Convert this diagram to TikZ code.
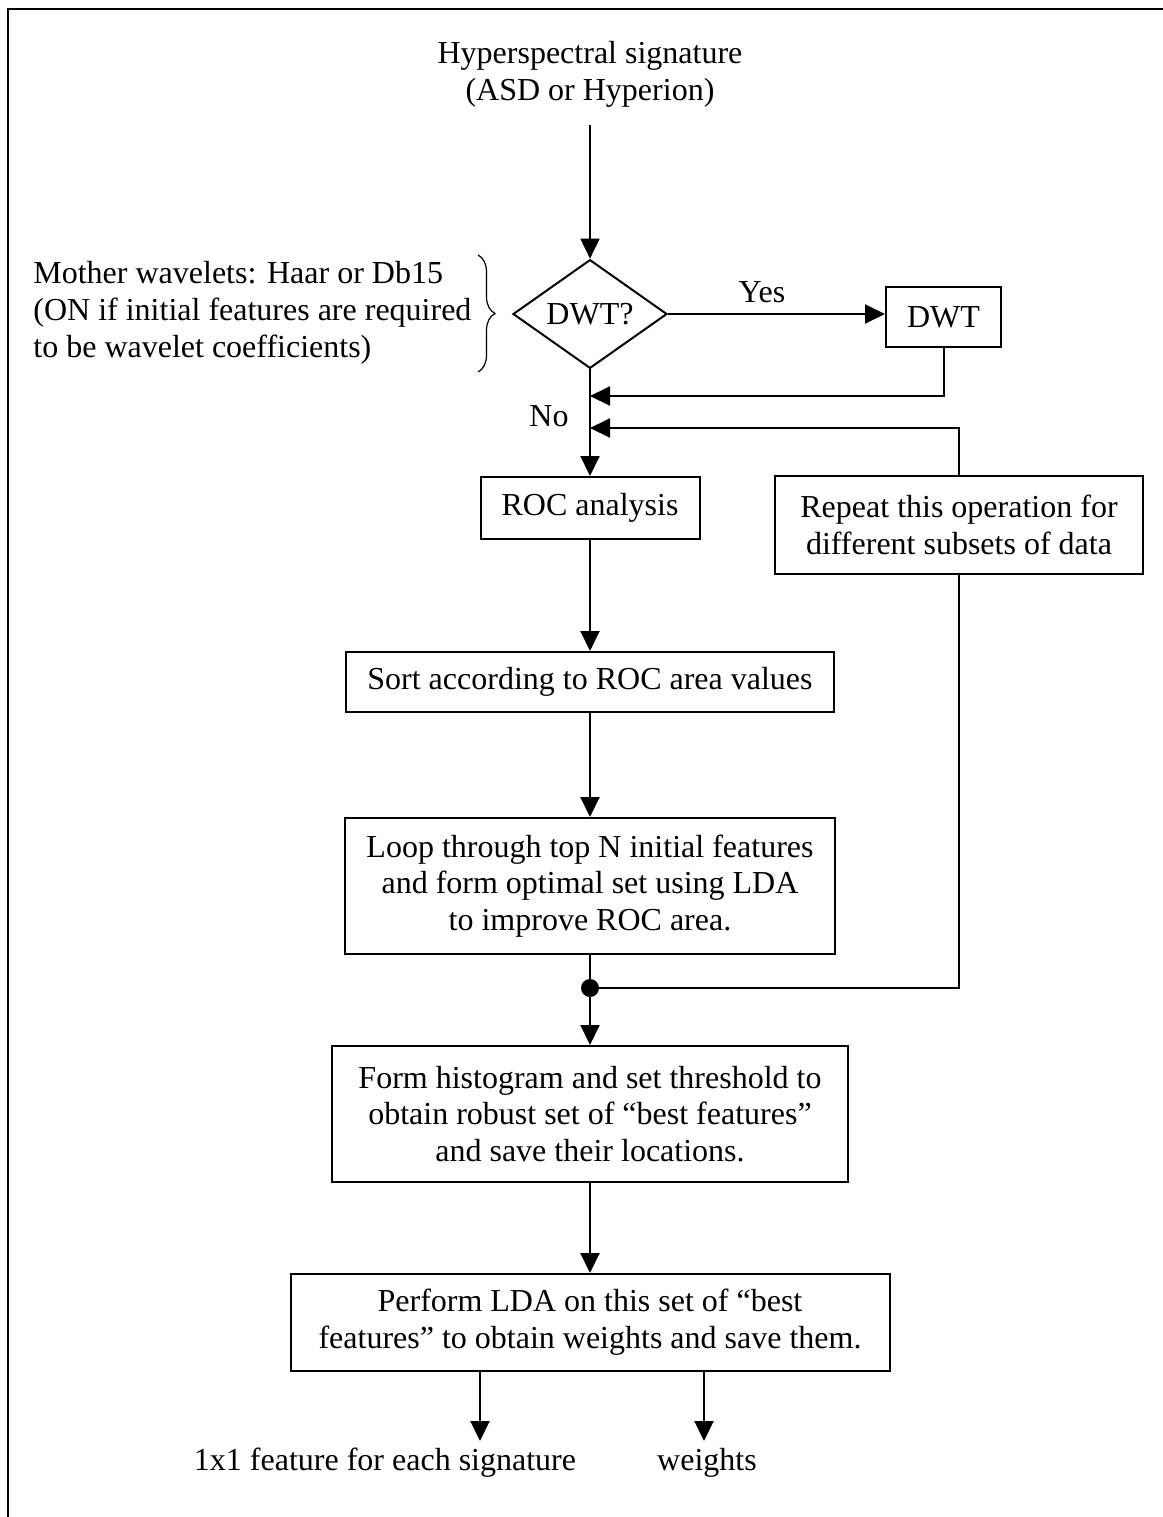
\documentclass[tikz,border=0pt]{standalone}
\usepackage{fontspec}
\setmainfont{Liberation Serif}
\usepackage{tikz}
\usetikzlibrary{arrows.meta,shapes.geometric,decorations.pathreplacing}

\begin{document}
\begin{tikzpicture}[x=0.5pt,y=-0.5pt,
    font=\fontsize{16}{18.4}\selectfont,
    box/.style={draw,line width=1pt,inner sep=3pt,align=center},
    lbl/.style={inner sep=3pt,align=center},
    arr/.style={line width=1pt,-{Triangle[length=10pt,width=9.5pt]}},
    conn/.style={line width=1pt}]
    \useasboundingbox (0,0) rectangle (1163,1517);

    % Frame
    \draw[line width=1.4pt] (1190,9) -- (8,9) -- (8,1540);

    % Input and DWT choice
    \node[lbl] (title) at (590,74) {Hyperspectral signature\\(ASD or Hyperion)};
    \node[diamond,draw,line width=1pt,inner sep=0pt,minimum width=77pt,minimum height=49pt] (dwtq) at (590,314) {DWT?};
    \node[box,minimum width=57.5pt,minimum height=30pt] (dwt) at (943.5,317) {DWT};
    \node[lbl] (yes) at (762,292) {Yes};
    \node[lbl] (no) at (549,416) {No};
    \node[lbl,align=left,anchor=west] (mother) at (27,313) {Mother wavelets: Haar or Db15\\(ON if initial features are required\\to be wavelet coefficients)};
    \draw[decorate,decoration={brace,amplitude=8.5pt},line width=0.6pt] (478,255) -- (478,372);

    % Processing steps
    \node[box,minimum width=109.5pt,minimum height=31pt] (roc) at (590,508) {ROC analysis};
    \node[box,minimum width=184pt,minimum height=49pt] (rpt) at (959,525) {Repeat this operation for\\different subsets of data};
    \node[box,minimum width=244pt,minimum height=30pt] (sort) at (590,682) {Sort according to ROC area values};
    \node[box,minimum width=245pt,minimum height=68pt] (loop) at (590,886) {Loop through top N initial features\\and form optimal set using LDA\\to improve ROC area.};
    \node[circle,fill,inner sep=0pt,minimum size=9pt] (dot) at (590,988) {};
    \node[box,minimum width=258pt,minimum height=68pt] (form) at (590,1114) {Form histogram and set threshold to\\obtain robust set of “best features”\\and save their locations.};
    \node[box,minimum width=299.5pt,minimum height=48.5pt] (perf) at (590,1322.5) {Perform LDA on this set of “best\\features” to obtain weights and save them.};

    % Outputs
    \node[lbl] (feat) at (385,1463) {1x1 feature for each signature};
    \node[lbl] (wts) at (707,1463) {weights};

    % Connectors
    \coordinate (j1) at (590,396);
    \coordinate (j2) at (590,428);
    \coordinate (o1) at (480,1441);
    \coordinate (o2) at (704,1441);
    \draw[arr,shorten <=6pt] (title.south) -- (dwtq.north);
    \draw[arr] (dwtq.east) -- (dwt.west |- dwtq.east);
    \draw[arr] (dwt.south) |- (j1);
    \draw[arr] (rpt.north) |- (j2);
    \draw[arr] (dwtq.south) -- (roc.north);
    \draw[arr] (roc.south) -- (sort.north);
    \draw[arr] (sort.south) -- (loop.north);
    \draw[conn] (loop.south) -- (dot);
    \draw[conn] (rpt.south) |- (dot);
    \draw[arr] (dot) -- (form.north);
    \draw[arr] (form.south) -- (perf.north);
    \draw[arr] (perf.south -| o1) -- (o1);
    \draw[arr] (perf.south -| o2) -- (o2);
\end{tikzpicture}
\end{document}
